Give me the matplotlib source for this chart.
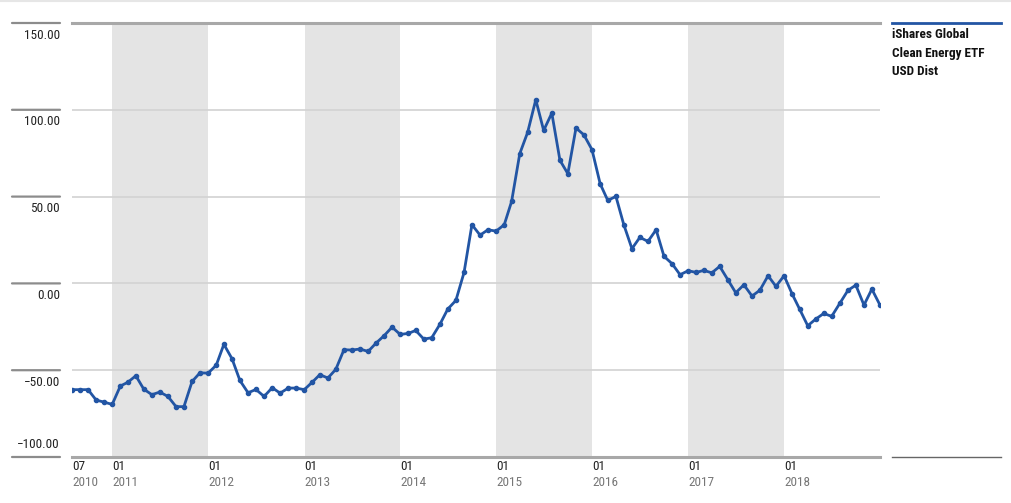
import matplotlib
matplotlib.use("Agg")
from matplotlib import pyplot as plt
from matplotlib import font_manager
import matplotlib.dates as mdates
import pandas as pd
import numpy as np

# pick a narrow font if one is around
names = set(f.name for f in font_manager.fontManager.ttflist)
narrow = [n for n in ["Roboto Condensed", "Liberation Sans Narrow", "Arial Narrow",
                      "DejaVu Sans Condensed", "Roboto"] if n in names]
plt.rcParams['font.family'] = narrow + ['DejaVu Sans']

# monthly growth values, end of month, Jul 2010 .. Dec 2018
dates = pd.date_range("2010-07-31", "2018-12-31", freq="ME")
values = [
    -61.2, -61.2, -61.2, -67.2, -68.4, -69.7, -59.1, -57.0, -53.2, -60.9,
    -64.1, -62.6, -65.1, -71.0, -71.0, -56.5, -51.5, -51.7, -47.1, -35.1,
    -43.4, -55.9, -63.0, -61.1, -65.1, -60.1, -63.2, -60.3, -60.3, -61.2,
    -56.8, -52.6, -54.5, -49.5, -38.2, -38.4, -37.8, -39.2, -34.4, -30.1,
    -25.2, -29.4, -28.8, -27.1, -32.1, -31.3, -23.6, -14.8, -9.8, 6.3,
    33.8, 27.8, 30.9, 30.1, 33.8, 47.2, 74.7, 87.0, 105.8, 88.1,
    98.1, 70.9, 63.2, 89.5, 85.6, 77.0, 57.4, 47.8, 50.1, 33.8,
    20.0, 26.5, 24.2, 30.9, 15.6, 11.3, 5.0, 7.3, 6.3, 7.5,
    6.1, 9.8, 2.1, -5.4, -0.8, -7.3, -3.9, 4.4, -1.7, 4.4,
    -6.2, -14.8, -24.4, -20.6, -17.3, -19.0, -11.5, -4.0, -1.0, -12.5,
    -3.3, -12.5,
]
series_name = "iShares Global\nClean Energy ETF\nUSD Dist"

y_ticks = [150, 100, 50, 0, -50, -100]
y_labels = ["150.00", "100.00", "50.00", "0.00", "\u221250.00", "\u2212100.00"]
x_ticks = ["2010-07-31", "2011-01-01", "2012-01-01", "2013-01-01", "2014-01-01",
           "2015-01-01", "2016-01-01", "2017-01-01", "2018-01-01"]
x_months = ["07", "01", "01", "01", "01", "01", "01", "01", "01"]
x_years = ["2010", "2011", "2012", "2013", "2014", "2015", "2016", "2017", "2018"]
shaded_years = [2011, 2013, 2015, 2017]

line_col = "#2255a4"

fig = plt.figure(figsize=(10.12, 5.03), dpi=100)
ax = fig.add_axes([72/1012, 46/503, 808/1012, 434/503])

ax.set_xlim(dates[0], dates[-1])
ax.set_ylim(-100, 150)

# alternating year bands
for yr in shaded_years:
    ax.axvspan(pd.Timestamp(f"{yr}-01-01"), pd.Timestamp(f"{yr+1}-01-01"),
               color="#e4e4e4", lw=0, zorder=0)

# grid
for v in y_ticks[1:-1]:
    ax.axhline(v, color="#d2d2d2", lw=1.2, zorder=1)
ax.axhline(150, color="#a8a8a8", lw=2.2, zorder=1, clip_on=False)
ax.axhline(-100, color="#a8a8a8", lw=2.2, zorder=1, clip_on=False)

ax.plot(dates, values, color=line_col, lw=2, marker="o", ms=3, zorder=3)

for s in ax.spines.values():
    s.set_visible(False)
ax.set_xticks([])
ax.set_yticks([])

# y labels with short lines on the left
for v, lab in zip(y_ticks, y_labels):
    ax.annotate("", xy=(12/1012, v), xytext=(60/1012, v),
                xycoords=("figure fraction", "data"),
                textcoords=("figure fraction", "data"),
                arrowprops=dict(arrowstyle="-", color="#8c8c8c", lw=1.6,
                                shrinkA=0, shrinkB=0))
    if v == -100:
        ax.annotate(lab, xy=(60/1012, v), xycoords=("figure fraction", "data"),
                    xytext=(0, 4), textcoords="offset points",
                    ha="right", va="bottom", fontsize=9.5, color="#222222")
    else:
        ax.annotate(lab, xy=(60/1012, v), xycoords=("figure fraction", "data"),
                    xytext=(0, -4), textcoords="offset points",
                    ha="right", va="top", fontsize=9.5, color="#222222")

# x labels: month on top, year below
for d, m, yv in zip(x_ticks, x_months, x_years):
    xn = mdates.date2num(pd.Timestamp(d))
    ax.annotate(m, xy=(xn, 0), xycoords=("data", "axes fraction"),
                xytext=(0, -2), textcoords="offset points",
                ha="left", va="top", fontsize=9.5, color="#222222")
    ax.annotate(yv, xy=(xn, 0), xycoords=("data", "axes fraction"),
                xytext=(0, -14), textcoords="offset points",
                ha="left", va="top", fontsize=9.5, color="#777777")

# legend on the right
fig.add_artist(plt.Line2D([892/1012, 1001/1012], [480/503, 480/503],
                          color=line_col, lw=2))
fig.add_artist(plt.Line2D([892/1012, 1001/1012], [46/503, 46/503],
                          color="#666666", lw=1))
fig.text(892/1012, 475/503, series_name, ha="left", va="top", fontsize=9.5,
         fontweight="bold", color="#111111", linespacing=1.55)

# thin top border
fig.add_artist(plt.Line2D([0, 1], [502/503, 502/503], color="#e6e6e6", lw=1.5))

fig.savefig("out.png", dpi=100)
